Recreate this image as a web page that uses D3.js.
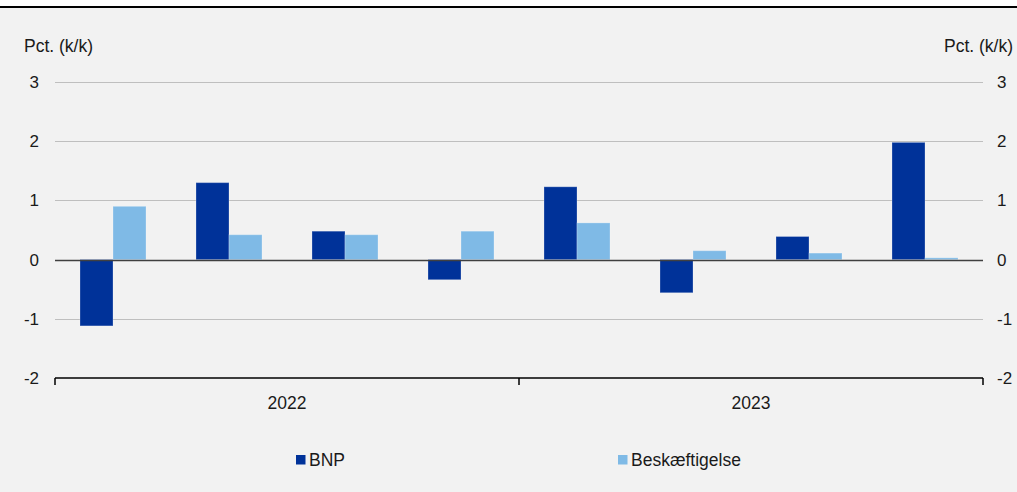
<!DOCTYPE html>
<html><head><meta charset="utf-8">
<script src="https://cdn.jsdelivr.net/npm/d3@7"></script>
<style>body{margin:0;background:#fff;}svg{display:block;font-family:"Liberation Sans",Arial,sans-serif;}</style>
</head><body>
<script>
const categories = ["2022K1","2022K2","2022K3","2022K4","2023K1","2023K2","2023K3","2023K4"];
const years = ["2022","2023"];
const bnp = [-1.12, 1.30, 0.48, -0.34, 1.23, -0.56, 0.39, 1.98];
const beskaeftigelse = [0.90, 0.42, 0.42, 0.48, 0.62, 0.15, 0.11, 0.03];
const yTicks = [-2,-1,0,1,2,3];
const seriesNames = ["BNP","Beskæftigelse"];
const colors = ["#003299","#7fbae6"];

const W=1017,H=492;
const FS=17.5;
const svg=d3.select("body").append("svg").attr("width",W).attr("height",H);
svg.append("rect").attr("x",0).attr("y",8).attr("width",W).attr("height",H-8).attr("fill","#f2f2f2");
svg.append("line").attr("x1",0).attr("x2",W).attr("y1",7).attr("y2",7).attr("stroke","#000").attr("stroke-width",2);

const left=55,right=983;
const y=d3.scaleLinear().domain([-2,3]).range([378,82]);
const x=d3.scaleBand().domain(categories).range([left,right]).paddingInner(0.431).paddingOuter(0.2155);
const xs=d3.scaleBand().domain(seriesNames).range([0,x.bandwidth()]);
const xYear=d3.scaleBand().domain(years).range([left,right]);

// gridlines
svg.append("g").selectAll("line").data(yTicks.filter(d=>d>-2&&d!==0)).join("line")
  .attr("x1",left).attr("x2",right).attr("y1",d=>Math.round(y(d))+0.5).attr("y2",d=>Math.round(y(d))+0.5)
  .attr("stroke","#bfbfbf").attr("stroke-width",1);

// bars
const data=categories.map((c,i)=>({c,vals:[bnp[i],beskaeftigelse[i]]}));
const g=svg.append("g");
data.forEach(d=>{
  d.vals.forEach((v,j)=>{
    g.append("rect").attr("x",x(d.c)+xs(seriesNames[j])).attr("width",xs.bandwidth())
     .attr("y",y(Math.max(0,v))).attr("height",Math.abs(y(v)-y(0)))
     .attr("fill",colors[j]).attr("stroke","rgba(255,255,255,0.25)").attr("stroke-width",1);
  });
});

// zero line
svg.append("line").attr("x1",left).attr("x2",right).attr("y1",Math.round(y(0))+0.5).attr("y2",Math.round(y(0))+0.5)
  .attr("stroke","#404040").attr("stroke-width",1.5);

// bottom axis
const bx=svg.append("g").attr("transform",`translate(0,${y(-2)})`);
bx.append("line").attr("x1",left).attr("x2",right).attr("stroke","#000").attr("stroke-width",1.5);
const tickXs=[left,xYear("2023"),right];
bx.selectAll("line.t").data(tickXs).join("line").attr("class","t")
  .attr("x1",d=>d).attr("x2",d=>d).attr("y1",0).attr("y2",7).attr("stroke","#000").attr("stroke-width",1.5);
bx.selectAll("text").data(years).join("text")
  .attr("x",d=>xYear(d)+xYear.bandwidth()/2).attr("y",31).attr("text-anchor","middle")
  .attr("font-size",17.5).attr("fill","#1a1a1a").text(d=>d);

// y labels
const fmt=d=>String(d);
svg.append("g").selectAll("text").data(yTicks).join("text")
  .attr("x",39).attr("y",d=>y(d)+6).attr("text-anchor","end").attr("font-size",17).attr("fill","#1a1a1a").text(fmt);
svg.append("g").selectAll("text").data(yTicks).join("text")
  .attr("x",997).attr("y",d=>y(d)+6).attr("text-anchor","start").attr("font-size",17).attr("fill","#1a1a1a").text(fmt);
svg.append("text").attr("x",24).attr("y",52).attr("font-size",FS).attr("fill","#1a1a1a").text("Pct. (k/k)");
svg.append("text").attr("x",1013).attr("y",52).attr("text-anchor","end").attr("font-size",FS).attr("fill","#1a1a1a").text("Pct. (k/k)");

// legend
const legX=[296,618];
seriesNames.forEach((n,i)=>{
  svg.append("rect").attr("x",legX[i]).attr("y",455).attr("width",9.5).attr("height",9.5).attr("fill",colors[i]);
  svg.append("text").attr("x",legX[i]+13).attr("y",466).attr("font-size",FS).attr("fill","#1a1a1a").text(n);
});
</script>
</body></html>
